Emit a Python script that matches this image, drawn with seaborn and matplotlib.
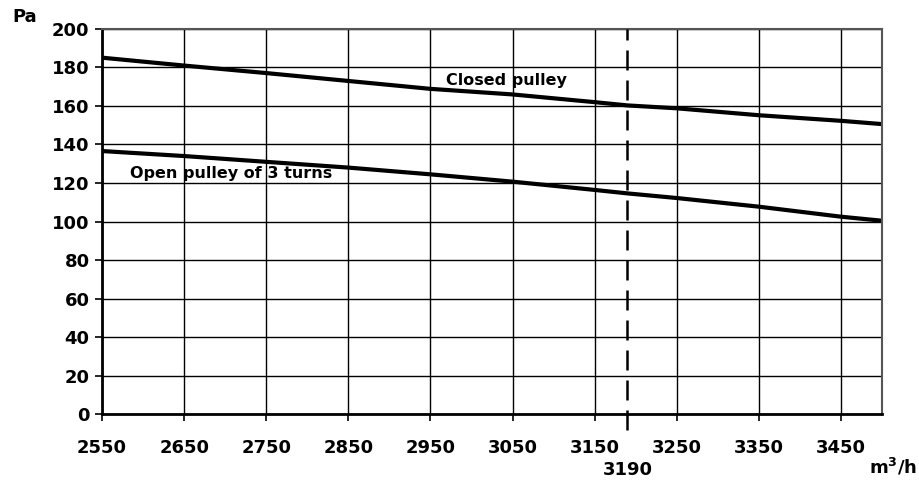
import pandas as pd
import matplotlib.pyplot as plt
import seaborn as sns

# values
flow = [2550, 2650, 2750, 2850, 2950, 3050, 3150, 3190, 3250, 3350, 3450, 3500]
closed_pa = [185.1, 181.0, 177.1, 173.0, 168.9, 166.0, 162.0, 160.3, 158.8, 155.2, 152.3, 150.6]
open_pa = [136.6, 134.0, 131.0, 128.0, 124.5, 120.7, 116.4, 114.6, 112.2, 107.7, 102.5, 100.4]
x_ticks = [2550, 2650, 2750, 2850, 2950, 3050, 3150, 3250, 3350, 3450]
y_ticks = list(range(0, 201, 20))
marker_flow = 3190

df = pd.DataFrame({"flow": flow, "Closed pulley": closed_pa,
                   "Open pulley of 3 turns": open_pa})

sns.set_style("white")
plt.rcParams['font.family'] = ['DejaVu Sans']
plt.rcParams['font.weight'] = 'bold'
plt.rcParams['text.color'] = 'black'
plt.rcParams['xtick.color'] = 'black'
plt.rcParams['ytick.color'] = 'black'

fig = plt.figure(figsize=(9.2, 4.88), dpi=100)
ax = fig.add_axes([0.1109, 0.1516, 0.8478, 0.789])

sns.lineplot(data=df, x="flow", y="Closed pulley", color="black", lw=3, ax=ax)
sns.lineplot(data=df, x="flow", y="Open pulley of 3 turns", color="black", lw=3, ax=ax)

ax.set_xlim(2550, 3500)
ax.set_ylim(0, 200)
ax.set_xticks(x_ticks)
ax.set_yticks(y_ticks)
ax.grid(True, color="black", lw=1)
ax.set_axisbelow(True)
ax.set_xlabel("")
ax.set_ylabel("")

ax.tick_params(axis="x", direction="out", length=5, width=1.2, pad=13,
               labelsize=13, bottom=True, colors="black")
ax.tick_params(axis="y", direction="out", length=5, width=1.2, pad=4,
               labelsize=13, left=True, colors="black")
for lab in ax.get_xticklabels() + ax.get_yticklabels():
    lab.set_fontweight("bold")

for s in ["left", "bottom"]:
    ax.spines[s].set_color("black")
    ax.spines[s].set_linewidth(2)
for s in ["top", "right"]:
    ax.spines[s].set_color("#555555")
    ax.spines[s].set_linewidth(1.5)

# dashed marker line at the operating point
ax.plot([marker_flow, marker_flow], [-8.5, 200], color="black", lw=1.8,
        dashes=(8, 4), clip_on=False, zorder=3)
ax.text(marker_flow, -24.5, str(marker_flow), ha="center", va="top",
        fontsize=13, fontweight="bold")

ax.text(2969, 173.5, "Closed pulley", ha="left", va="center",
        fontsize=11.5, fontweight="bold")
ax.text(2584, 125, "Open pulley of 3 turns", ha="left", va="center",
        fontsize=11.5, fontweight="bold")

fig.text(0.013, 0.983, "Pa", ha="left", va="top", fontsize=13, fontweight="bold")
fig.text(0.997, 0.022, "m$^3$/h", ha="right", va="bottom", fontsize=13,
         fontweight="bold")

fig.savefig("out.png", dpi=100)
